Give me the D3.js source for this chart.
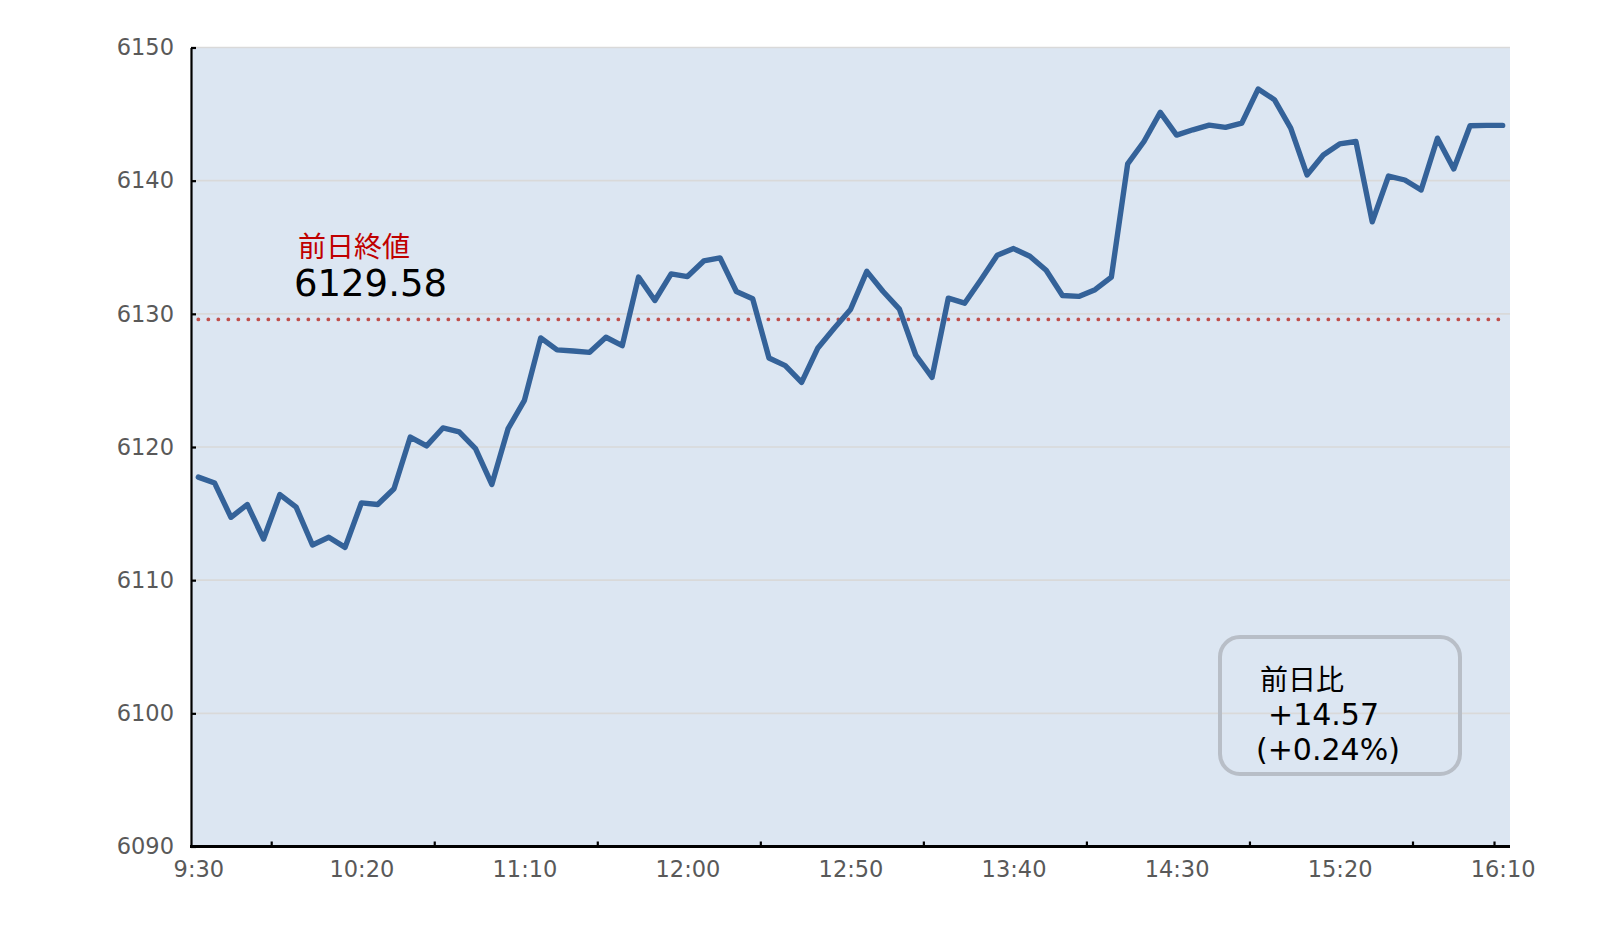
<!DOCTYPE html>
<html><head><meta charset="utf-8">
<script src="https://cdn.jsdelivr.net/npm/d3@7"></script>
<style>body{margin:0;background:#fff;} svg{display:block;}</style>
</head><body><svg id="c" width="1608" height="930"></svg>
<script>
const times = ["9:30","9:35","9:40","9:45","9:50","9:55","10:00","10:05","10:10","10:15",
"10:20","10:25","10:30","10:35","10:40","10:45","10:50","10:55","11:00","11:05",
"11:10","11:15","11:20","11:25","11:30","11:35","11:40","11:45","11:50","11:55",
"12:00","12:05","12:10","12:15","12:20","12:25","12:30","12:35","12:40","12:45",
"12:50","12:55","13:00","13:05","13:10","13:15","13:20","13:25","13:30","13:35",
"13:40","13:45","13:50","13:55","14:00","14:05","14:10","14:15","14:20","14:25",
"14:30","14:35","14:40","14:45","14:50","14:55","15:00","15:05","15:10","15:15",
"15:20","15:25","15:30","15:35","15:40","15:45","15:50","15:55","16:00","16:05","16:10"];
const values = [6117.74,6117.29,6114.72,6115.68,6113.09,6116.43,6115.48,6112.64,6113.22,6112.46,
6115.80,6115.68,6116.86,6120.75,6120.08,6121.43,6121.13,6119.87,6117.19,6121.38,
6123.50,6128.19,6127.29,6127.21,6127.11,6128.24,6127.61,6132.76,6131.00,6133.00,
6132.80,6133.97,6134.20,6131.68,6131.13,6126.68,6126.11,6124.85,6127.44,6128.92,
6130.33,6133.19,6131.68,6130.35,6126.91,6125.23,6131.18,6130.80,6132.56,6134.40,
6134.90,6134.32,6133.27,6131.38,6131.31,6131.81,6132.76,6141.26,6142.94,6145.13,
6143.42,6143.82,6144.17,6144.00,6144.32,6146.88,6146.08,6143.94,6140.43,6141.93,
6142.76,6142.94,6136.91,6140.35,6140.05,6139.30,6143.19,6140.88,6144.12,6144.15,6144.15];
const xLabels = ["9:30","10:20","11:10","12:00","12:50","13:40","14:30","15:20","16:10"];
const xTickAfter = ["9:50","10:40","11:30","12:20","13:10","14:00","14:50","15:40","16:05"];
const yTicks = [6090,6100,6110,6120,6130,6140,6150];
const prevClose = 6129.58;
const prevCloseLabel = "前日終値";
const boxLines = ["前日比", "+14.57", "(+0.24%)"];

const svg = d3.select("#c");
const L = 191, R = 1510, T = 47.5, B = 846.5;
const x = d3.scalePoint().domain(times).range([L, R]).padding(0.45);
const y = d3.scaleLinear().domain([6090, 6150]).range([B, T]);
const FONT = "'DejaVu Sans', 'Noto Sans CJK JP', sans-serif";
const JFONT = "'Noto Sans CJK JP', sans-serif";

svg.append("rect").attr("x",0).attr("y",0).attr("width",1608).attr("height",930).attr("fill","#fff");
svg.append("rect").attr("x",L).attr("y",T).attr("width",R-L).attr("height",B-T).attr("fill","#dce6f2");

// gridlines
svg.append("g").selectAll("line").data(yTicks.filter(d=>d>6090)).join("line")
  .attr("x1",L).attr("x2",R).attr("y1",d=>y(d)).attr("y2",d=>y(d))
  .attr("stroke","#d9d9d9").attr("stroke-width",1.6);

// previous close dotted line
svg.append("line").attr("x1",x(times[0])).attr("x2",x(times[times.length-1]))
  .attr("y1",y(prevClose)).attr("y2",y(prevClose))
  .attr("stroke","#c0504d").attr("stroke-width",3.8).attr("stroke-linecap","round")
  .attr("stroke-dasharray","0 10");

// y axis
const yAxis = d3.axisLeft(y).tickValues(yTicks).tickSizeInner(-5).tickSizeOuter(0).tickPadding(17).tickFormat(d3.format("d"));
const gy = svg.append("g").attr("transform",`translate(${L},0)`).call(yAxis);
gy.select(".domain").attr("stroke","#000").attr("stroke-width",2.2);
gy.selectAll(".tick line").attr("stroke","#000").attr("stroke-width",2.2);
gy.selectAll("text").attr("font-family",FONT).attr("font-size",22.5).attr("fill","#595959");

// x axis
const xAxis = d3.axisBottom(x).tickValues(xLabels).tickSize(0).tickPadding(15);
const gx = svg.append("g").attr("transform",`translate(0,${B})`).call(xAxis);
gx.select(".domain").remove();
gx.selectAll("text").attr("font-family",FONT).attr("font-size",22.5).attr("fill","#595959");
svg.append("line").attr("x1",L-1).attr("x2",R).attr("y1",B).attr("y2",B).attr("stroke","#000").attr("stroke-width",3);
const step = x.step();
svg.append("g").selectAll("line").data(xTickAfter).join("line")
  .attr("x1",d=>x(d)+step/2).attr("x2",d=>x(d)+step/2).attr("y1",B).attr("y2",B-5)
  .attr("stroke","#000").attr("stroke-width",2.2);

// data line
const line = d3.line().x((d,i)=>x(times[i])).y(d=>y(d));
svg.append("path").datum(values).attr("d",line).attr("fill","none")
  .attr("stroke","#346299").attr("stroke-width",5.4).attr("stroke-linejoin","round").attr("stroke-linecap","round");

// prev close annotation
svg.append("text").attr("x",298).attr("y",257).attr("font-family",JFONT).attr("font-size",28)
  .attr("fill","#c00000").text(prevCloseLabel);
svg.append("text").attr("x",294).attr("y",296).attr("font-family",FONT).attr("font-size",37)
  .attr("fill","#000").text(d3.format(".2f")(prevClose));

// change box
svg.append("rect").attr("x",1220).attr("y",637).attr("width",240).attr("height",137).attr("rx",20)
  .attr("fill","none").attr("stroke","#b8bec7").attr("stroke-width",4);
const boxX = [1260, 1268, 1256];
const boxY = [690, 725, 760];
const boxSize = [28, 30, 30];
boxLines.forEach((s,i)=>{
  svg.append("text").attr("x", boxX[i]).attr("y", boxY[i])
    .attr("font-family", i===0 ? JFONT : FONT).attr("font-size", boxSize[i]).attr("fill","#000").text(s);
});
</script></body></html>
